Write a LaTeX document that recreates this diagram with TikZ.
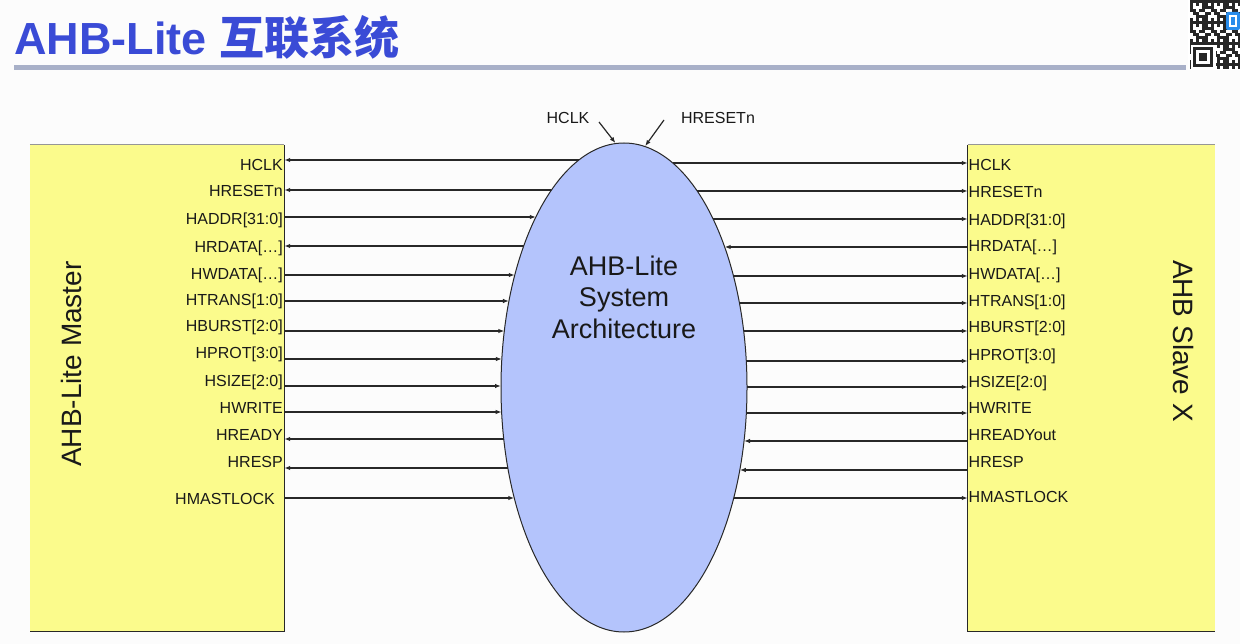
\documentclass[tikz,border=0pt]{standalone}
\usepackage{fontspec}
\setmainfont{Liberation Sans}
\newfontfamily\cjk{Noto Sans CJK SC}
\usetikzlibrary{arrows.meta,shapes.geometric}
\definecolor{boxyellow}{RGB}{251,251,140}
\definecolor{ellblue}{RGB}{180,196,252}
\definecolor{titleblue}{RGB}{58,75,214}
\definecolor{barcol}{RGB}{168,176,200}
\definecolor{linecol}{RGB}{40,40,40}
\definecolor{edgegray}{RGB}{150,150,150}
\definecolor{bg}{RGB}{252,252,252}
\definecolor{qrblue}{RGB}{40,140,235}
\begin{document}
\begin{tikzpicture}[x=1pt,y=-1pt,
  sig/.style={draw=linecol,line width=1.2pt},
  tipR/.style={-{Latex[length=6pt,width=4.5pt]}},
  tipL/.style={{Latex[length=6pt,width=4.5pt]}-},
  lbl/.style={font=\fontsize{16}{19}\selectfont,text=black!90,inner sep=0pt},
  boxfill/.style={fill=boxyellow,draw=none,inner sep=0pt,minimum width=254pt,minimum height=486pt},
  bigtxt/.style={font=\fontsize{28}{32}\selectfont,text=black!90,inner sep=0pt}]
\useasboundingbox (0,0) rectangle (1240,644);
\fill[bg] (0,0) rectangle (1240,644);

% title
\node[anchor=base west,inner sep=0pt,text=titleblue,font=\fontsize{45}{48}\selectfont\bfseries] (title) at (14,55) {AHB-Lite {\cjk\bfseries 互联系统}};
\fill[barcol] (14,65) rectangle (1186,70);

% QR-like mark
\fill[white] (1188,0) rectangle (1240,70);
\foreach \i in {0,...,16}{
  \foreach \j in {0,...,22}{
    \pgfmathparse{int(mod(\i*\i*7+\j*11+\i*\j*3+\j*\j*5,7)<4)}
    \ifnum\pgfmathresult=1
      \fill[black!85] (1190+3*\i,3*\j) rectangle +(3,3);
    \fi
  }
}
\fill[white] (1191,45) rectangle (1216,69);
\fill[black!85] (1193,47) rectangle (1213,67);
\fill[white] (1196,50) rectangle (1210,64);
\fill[black!85] (1199,53) rectangle (1207,61);
\fill[qrblue,rounded corners=2pt] (1226,12) rectangle (1240,30);
\draw[white,line width=1.2pt] (1230,16) rectangle (1236,26);

% boxes
\node[boxfill] (master) at (157,388) {};
\draw[edgegray,line width=0.8pt] (master.north west) -- (master.north east);
\draw[linecol,line width=1.2pt] (master.north east) -- (master.south east) -- (master.south west);
\node[boxfill,minimum width=247pt] (slave) at (1091.5,388) {};
\draw[edgegray,line width=0.8pt] (slave.north west) -- (slave.north east);
\draw[linecol,line width=1.2pt] (slave.north west) -- (slave.south west) -- (slave.south east);

\node[bigtxt,rotate=90] (mastername) at (71,364) {AHB-Lite Master};
\node[bigtxt,rotate=-90] (slavename) at (1183,341) {AHB Slave X};

% ellipse
\node[ellipse,fill=ellblue,draw=linecol,line width=1pt,inner sep=0pt,minimum width=246pt,minimum height=489pt] (ell) at (624,387.5) {};
\node[bigtxt,font=\fontsize{27}{31.5}\selectfont,align=center] (elltxt) at (624,297) {AHB-Lite\\System\\Architecture};

% top inputs
\node[lbl,anchor=center] (topclk) at (568,118) {HCLK};
\node[lbl,anchor=center] (toprst) at (718,118) {HRESETn};
\coordinate (clktail) at (599,122);
\coordinate (rsttail) at (664,120);
\draw[sig,tipR] (clktail) -- (ell.92.8);
\draw[sig,tipR] (rsttail) -- (ell.85);

% signal rows
\foreach \k/\lname/\ly/\lb/\lx/\ld/\rname/\ry/\rb/\rd in {
  1/{HCLK}/160/171/283/0/{HCLK}/163/171/0,
  2/{HRESETn}/190/197/283/0/{HRESETn}/191/198/0,
  3/{HADDR[31:0]}/217/225/283/1/{HADDR[31:0]}/219/226/0,
  4/{HRDATA[…]}/246/253/283/0/{HRDATA[…]}/247/252/1,
  5/{HWDATA[…]}/275/280/283/1/{HWDATA[…]}/276/280/0,
  6/{HTRANS[1:0]}/301/306/283/1/{HTRANS[1:0]}/303/307/0,
  7/{HBURST[2:0]}/331/332/283/1/{HBURST[2:0]}/331/333/0,
  8/{HPROT[3:0]}/359/359/283/1/{HPROT[3:0]}/361/361/0,
  9/{HSIZE[2:0]}/386/386/283/1/{HSIZE[2:0]}/387/387/0,
  10/{HWRITE}/412/413/283/1/{HWRITE}/413/413/0,
  11/{HREADY}/439/440/283/0/{HREADYout}/441/440/1,
  12/{HRESP}/468/467/283/0/{HRESP}/470/467/1,
  13/{HMASTLOCK}/498/504/275/1/{HMASTLOCK}/498/502/0}{
  \pgfmathsetmacro\exl{123*sqrt(1-((\ly-387.5)/244.5)^2)}
  \pgfmathsetmacro\exr{123*sqrt(1-((\ry-387.5)/244.5)^2)}
  \coordinate (mL\k) at (master.east |- 0,\ly);
  \coordinate (eL\k) at (624-\exl,\ly);
  \coordinate (sR\k) at (slave.west |- 0,\ry);
  \coordinate (eR\k) at (624+\exr,\ry);
  \node[lbl,anchor=base east] (ml\k) at (\lx,\lb) {\lname};
  \node[lbl,anchor=base west] (sl\k) at (968.5,\rb) {\rname};
  \ifnum\ld=1
    \draw[sig,tipR] (mL\k) -- (eL\k);
  \else
    \draw[sig,tipL] (mL\k) -- (eL\k);
  \fi
  \ifnum\rd=1
    \draw[sig,tipR] (sR\k) -- (eR\k);
  \else
    \draw[sig,tipL] (sR\k) -- (eR\k);
  \fi
}
\end{tikzpicture}
\end{document}
